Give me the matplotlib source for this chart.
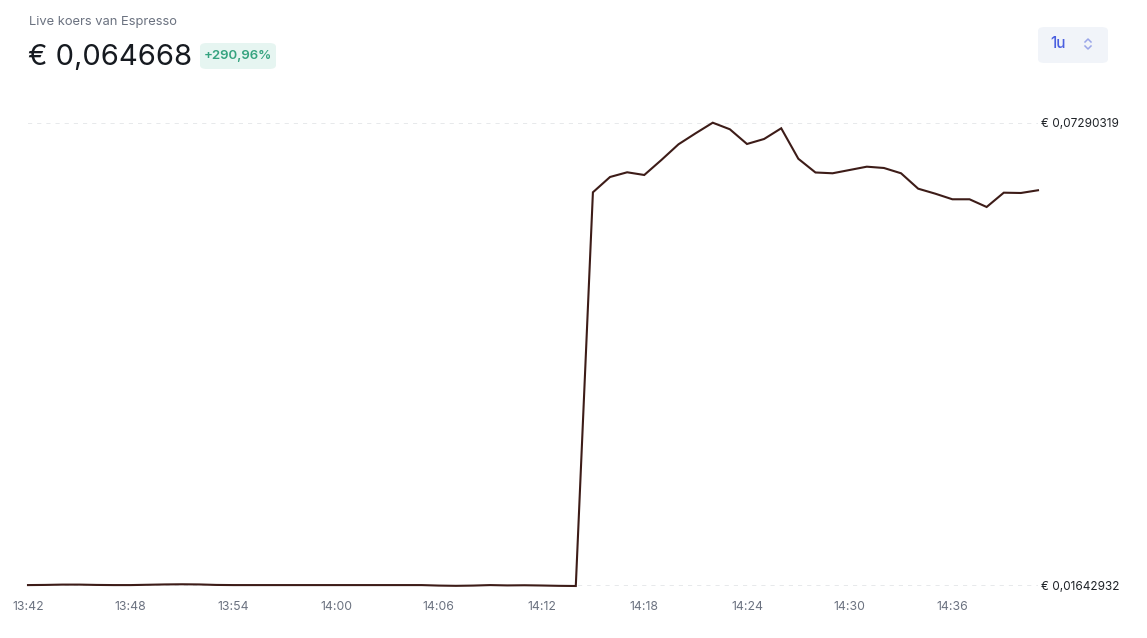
import matplotlib
matplotlib.use("Agg")
import matplotlib.pyplot as plt
from matplotlib.patches import FancyBboxPatch
from matplotlib.lines import Line2D

plt.rcParams['font.family'] = ['Inter', 'DejaVu Sans']

# ---- data ----
title_text = "Live koers van Espresso"
price_text = "€ 0,064668"
change_text = "+290,96%"
range_text = "1u"

minutes = list(range(60))  # 13:42 .. 14:41
prices = [
    0.016541, 0.016560, 0.016600, 0.016600, 0.016560, 0.016541, 0.016541,
    0.016580, 0.016620, 0.016640, 0.016620, 0.016560, 0.016541, 0.016541,
    0.016541, 0.016541, 0.016541, 0.016541, 0.016541, 0.016541, 0.016541,
    0.016541, 0.016541, 0.016541, 0.016480, 0.016450, 0.016480, 0.016541,
    0.016500, 0.016520, 0.016490, 0.016450, 0.01642932,
    0.064421, 0.066286, 0.066859, 0.066530, 0.068359, 0.070272, 0.071613,
    0.07290319, 0.072101, 0.070309, 0.070919, 0.072223, 0.068505, 0.066835,
    0.066738, 0.067140, 0.067542, 0.067383, 0.066738, 0.064860, 0.064251,
    0.063568, 0.063568, 0.062629, 0.064372, 0.064335, 0.064668,
]
tick_minutes = [0, 6, 12, 18, 24, 30, 36, 42, 48, 54]
tick_labels = ["13:42", "13:48", "13:54", "14:00", "14:06", "14:12",
               "14:18", "14:24", "14:30", "14:36"]
y_min = 0.01642932
y_max = 0.07290319
y_labels = ["€ 0,01642932", "€ 0,07290319"]

W, H = 1147, 638
fig = plt.figure(figsize=(W / 100, H / 100), dpi=100)
fig.patch.set_facecolor("white")

def fx(px):
    return px / W

def fy(py):
    return 1 - py / H

ax_left, ax_right = 28, 1038
ax_top, ax_bottom = 122.7, 586
ax = fig.add_axes([fx(ax_left), fy(ax_bottom), fx(ax_right - ax_left),
                   (ax_bottom - ax_top) / H])
ax.set_facecolor("none")
ax.plot(minutes, prices, color="#3d1c18", lw=1.5, clip_on=False, zorder=3,
        solid_joinstyle="miter")
ax.set_xlim(minutes[0], minutes[-1])
ax.set_ylim(y_min, y_max)
for s in ax.spines.values():
    s.set_visible(False)

ax.set_yticks([y_min, y_max])
ax.yaxis.tick_right()
ax.set_yticklabels(y_labels, fontsize=8.5, color="#1f2328")
ax.tick_params(axis="y", length=0, pad=2)
ax.grid(axis="y", color="#e3e5e8", lw=1.2, linestyle=(0, (2.5, 3)))
ax.set_xticks(tick_minutes)
ax.set_xticklabels(tick_labels, fontsize=8.8, color="#6b7280")
ax.tick_params(axis="x", length=0, pad=11)
ax.set_axisbelow(True)

# ---- header ----
fig.text(fx(29), fy(22), title_text, fontsize=9.3, color="#6b7280",
         va="center", ha="left")
fig.text(fx(28), fy(57), price_text, fontsize=21, color="#161a20",
         va="center", ha="left")

badge = FancyBboxPatch((fx(200), fy(69)), fx(76), (69 - 43) / H,
                       boxstyle="round,pad=0,rounding_size=0.006",
                       transform=fig.transFigure, facecolor="#e6f5f1",
                       edgecolor="none")
fig.add_artist(badge)
fig.text(fx(238), fy(56), change_text, fontsize=9.5, color="#35a37f",
         va="center", ha="center", fontweight="semibold")

btn = FancyBboxPatch((fx(1038), fy(63)), fx(70), (63 - 27) / H,
                     boxstyle="round,pad=0,rounding_size=0.006",
                     transform=fig.transFigure, facecolor="#f1f4f9",
                     edgecolor="none")
fig.add_artist(btn)
fig.text(fx(1058), fy(44), range_text, fontsize=11, color="#4a5fe0",
         va="center", ha="center", fontweight="medium")
# chevron icon
cx = 1088
fig.add_artist(Line2D([fx(cx - 3), fx(cx), fx(cx + 3)],
                      [fy(42), fy(39), fy(42)], transform=fig.transFigure,
                      color="#9aa6e8", lw=1.1))
fig.add_artist(Line2D([fx(cx - 3), fx(cx), fx(cx + 3)],
                      [fy(46), fy(49), fy(46)], transform=fig.transFigure,
                      color="#9aa6e8", lw=1.1))

fig.savefig("out.png", dpi=100, facecolor="white")
